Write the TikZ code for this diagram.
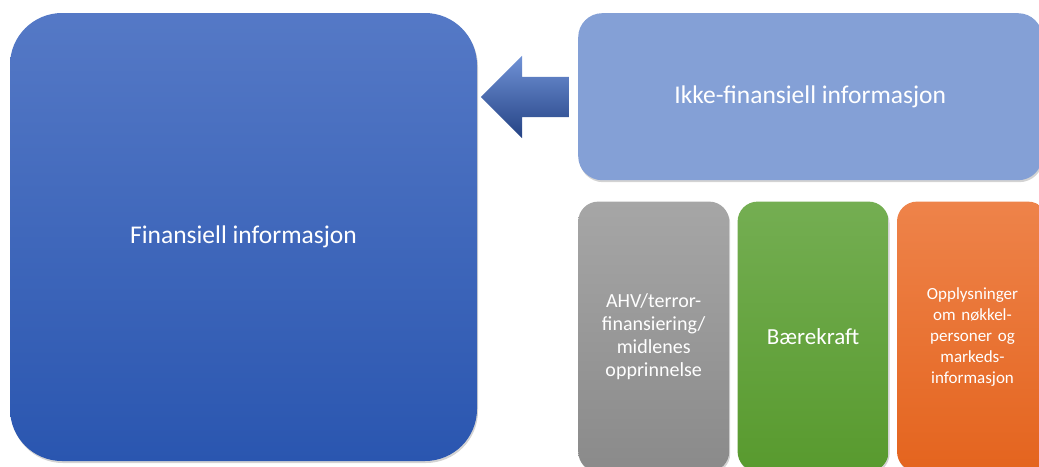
\documentclass[tikz,border=0pt]{standalone}
\usepackage{fontspec}
\setmainfont{Carlito}
\usepackage{tikz}
\usetikzlibrary{positioning,shapes.arrows,shadows}
\usepackage{xcolor}
\definecolor{FinTop}{RGB}{85,121,198}
\definecolor{FinBottom}{RGB}{42,86,176}
\definecolor{IkkeBlue}{RGB}{132,160,214}
\definecolor{PilTop}{RGB}{112,146,214}
\definecolor{PilBottom}{RGB}{36,66,132}
\definecolor{GreyTop}{RGB}{166,166,166}
\definecolor{GreyBottom}{RGB}{138,138,138}
\definecolor{GreenTop}{RGB}{116,174,82}
\definecolor{GreenBottom}{RGB}{88,154,46}
\definecolor{OrangeTop}{RGB}{238,131,74}
\definecolor{OrangeBottom}{RGB}{228,100,30}

\begin{document}
\begin{tikzpicture}[
x=1pt,y=-1pt,
node distance=8pt,
box/.style={
  rectangle,
  inner sep=0pt,
  text=white,
  align=center,
  drop shadow={shadow xshift=1pt,shadow yshift=-2pt,opacity=0.35}
},
finbox/.style={
  box,
  rounded corners=52pt,
  minimum width=467pt,
  minimum height=448pt,
  top color=FinTop,
  bottom color=FinBottom,
  font=\fontsize{25.5}{30}\selectfont
},
ikkebox/.style={
  box,
  rounded corners=24pt,
  minimum width=464pt,
  minimum height=167pt,
  fill=IkkeBlue,
  font=\fontsize{25.5}{30}\selectfont
},
smallbox/.style={
  box,
  rounded corners=20pt,
  minimum width=151pt,
  minimum height=270pt,
  text width=140pt
},
infoarrow/.style={
  single arrow,
  shape border rotate=180,
  inner xsep=0pt,
  inner ysep=20pt,
  minimum height=88pt,
  single arrow head extend=21pt,
  single arrow tip angle=90,
  top color=PilTop,
  bottom color=PilBottom
}
]
\useasboundingbox (0,0) rectangle (1039,466);
\node[finbox] (fin) at (243.5,237) {Finansiell informasjon};
\node[ikkebox,anchor=north west] (ikke) at (578,13) {Ikke-finansiell informasjon};
\node[infoarrow] (pil) at (535,97) {};
\node[smallbox,below right=21pt and 0pt of ikke.south west,
  top color=GreyTop,bottom color=GreyBottom,
  font=\fontsize{20}{23}\selectfont] (ahv)
  {AHV/terror-\\finansiering/\\midlenes\\opprinnelse};
\node[smallbox,right=of ahv,top color=GreenTop,bottom color=GreenBottom,
  font=\fontsize{23}{27}\selectfont] (baere) {Bærekraft};
\node[smallbox,right=of baere,top color=OrangeTop,bottom color=OrangeBottom,
  font=\fontsize{17}{21}\selectfont] (opp)
  {Opplysninger\\om nøkkel-\\personer og\\markeds-\\informasjon};
\end{tikzpicture}
\end{document}
